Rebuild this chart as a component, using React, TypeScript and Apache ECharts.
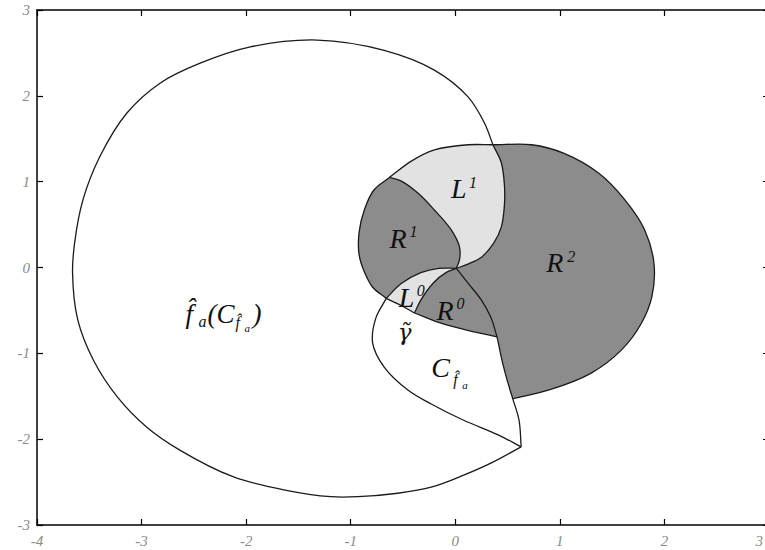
import React, { useEffect, useRef } from "react";
import * as echarts from "echarts";

type Pt = [number, number];

// ---- axis ticks ----
const xTicks = [-4, -3, -2, -1, 0, 1, 2, 3];
const yTicks = [-3, -2, -1, 0, 1, 2, 3];

// ---- boundary curves (data coordinates) ----
const outerArc: Pt[] = [
  [0.36, 1.43], [0.28, 1.68], [0.12, 1.99], [-0.2, 2.3], [-0.68, 2.53], [-1.32, 2.65],
  [-1.96, 2.57], [-2.44, 2.38], [-2.82, 2.15], [-3.14, 1.8], [-3.4, 1.29], [-3.56, 0.79],
  [-3.64, 0.29], [-3.66, -0.06], [-3.61, -0.61], [-3.46, -1.08], [-3.23, -1.51], [-2.95, -1.86],
  [-2.63, -2.13], [-2.12, -2.44], [-1.64, -2.59], [-1.19, -2.67], [-0.93, -2.67], [-0.55, -2.63],
  [-0.23, -2.56], [0.08, -2.42], [0.34, -2.28], [0.63, -2.09],
];
const cRightLow: Pt[] = [[0.63, -2.09], [0.61, -1.78], [0.55, -1.53]];
const cRightUp: Pt[] = [[0.55, -1.53], [0.5, -1.33], [0.45, -1.1], [0.4, -0.81]];
const r0Right: Pt[] = [[0.01, -0.01], [0.12, -0.18], [0.25, -0.38], [0.34, -0.58], [0.4, -0.81]];
const l1Right: Pt[] = [
  [0.36, 1.43], [0.44, 1.22], [0.47, 0.96], [0.47, 0.73], [0.44, 0.47], [0.37, 0.29],
  [0.25, 0.12], [0.12, 0.04], [0.01, -0.01],
];
const l1Top: Pt[] = [[-0.63, 1.05], [-0.42, 1.24], [-0.2, 1.37], [0.12, 1.43], [0.36, 1.43]];
const r2Arc: Pt[] = [
  [0.36, 1.43], [0.73, 1.43], [1.04, 1.33], [1.37, 1.1], [1.62, 0.79], [1.81, 0.44],
  [1.9, 0.05], [1.88, -0.34], [1.78, -0.65], [1.59, -0.96], [1.3, -1.23], [0.89, -1.43],
  [0.55, -1.53],
];
const divR1L1: Pt[] = [
  [-0.63, 1.05], [-0.52, 1.01], [-0.36, 0.87], [-0.2, 0.67], [-0.04, 0.44], [0.04, 0.24],
  [0.04, 0.09], [0.01, -0.01],
];
const r1Left: Pt[] = [
  [-0.63, 1.05], [-0.78, 0.9], [-0.87, 0.67], [-0.92, 0.41], [-0.92, 0.15], [-0.87, -0.05],
  [-0.79, -0.23], [-0.66, -0.36],
];
const l0Top: Pt[] = [[-0.66, -0.36], [-0.52, -0.19], [-0.33, -0.06], [-0.16, -0.01], [0.01, -0.01]];
const divL0R0: Pt[] = [[0.01, -0.01], [-0.09, -0.06], [-0.21, -0.18], [-0.33, -0.38], [-0.39, -0.53]];
const gammaA: Pt[] = [[-0.66, -0.36], [-0.49, -0.46], [-0.39, -0.53]];
const gammaB: Pt[] = [[-0.39, -0.53], [-0.16, -0.64], [0.08, -0.72], [0.4, -0.81]];
const cLeft: Pt[] = [
  [-0.66, -0.36], [-0.76, -0.59], [-0.79, -0.88], [-0.68, -1.16], [-0.45, -1.43],
  [-0.23, -1.59], [0.08, -1.78], [0.41, -1.95], [0.63, -2.09],
];

const curves: Record<string, Pt[]> = {
  outerArc, cRightLow, cRightUp, r0Right, l1Right, l1Top, r2Arc, divR1L1, r1Left,
  l0Top, divL0R0, gammaA, gammaB, cLeft,
};
const strokeCurves = Object.keys(curves);

// regions: sequences of curves [name, reversed]
const regionNames = ["R1", "L1", "R2", "L0", "R0"];
const regionParts: [string, boolean][][] = [
  [["divR1L1", false], ["l0Top", true], ["r1Left", true]],
  [["l1Top", false], ["l1Right", false], ["divR1L1", true]],
  [["r2Arc", false], ["cRightUp", false], ["r0Right", true], ["l1Right", true]],
  [["l0Top", false], ["divL0R0", false], ["gammaA", true]],
  [["r0Right", false], ["gammaB", true], ["divL0R0", true]],
];
const regionTone = ["dark", "light", "dark", "light", "dark"];

// label anchors (data coords, baseline-left of main glyph)
const labelAnchors: Pt[] = [
  [-0.04, 0.81], // L1
  [-0.63, 0.23], // R1
  [0.87, -0.05], // R2
  [-0.54, -0.46], // L0
  [-0.18, -0.61], // R0
  [-0.55, -0.84], // gamma
  [-0.23, -1.28], // C_fa
  [-2.58, -0.65], // fa(C_fa)
];

type Piece = { t: string; dx: number; dy: number; s: number; font?: string };
const labelPieces: Piece[][] = [
  [{ t: "L", dx: 0, dy: 0, s: 28 }, { t: "1", dx: 18, dy: -10, s: 16 }],
  [{ t: "R", dx: 0, dy: 0, s: 28 }, { t: "1", dx: 20, dy: -11, s: 16 }],
  [{ t: "R", dx: 0, dy: 0, s: 28 }, { t: "2", dx: 21, dy: -10, s: 16 }],
  [{ t: "L", dx: 0, dy: 0, s: 28 }, { t: "0", dx: 18, dy: -11, s: 16 }],
  [{ t: "R", dx: 0, dy: 0, s: 28 }, { t: "0", dx: 20, dy: -11, s: 16 }],
  [{ t: "\u03B3\u0303", dx: 0, dy: 0, s: 23, font: '"DejaVu Serif", serif' }],
  [
    { t: "C", dx: 0, dy: 0, s: 28 },
    { t: "f\u0302", dx: 22, dy: 8, s: 16 },
    { t: "a", dx: 31, dy: 11, s: 11 },
  ],
  [
    { t: "f\u0302", dx: 0, dy: 0, s: 27 },
    { t: "a", dx: 13, dy: 4, s: 16 },
    { t: "(C", dx: 22, dy: 0, s: 27 },
    { t: "f\u0302", dx: 50, dy: 5, s: 16 },
    { t: "a", dx: 59, dy: 8, s: 11 },
    { t: ")", dx: 67, dy: 0, s: 27 },
  ],
];

const DARK = "#8c8c8c";
const LIGHT = "#e2e2e2";
const INK = "#1a1a1a";
const SERIF = '"Liberation Serif", "DejaVu Serif", serif';

// centripetal Catmull-Rom -> cubic Bezier segments (rendering only)
function segs(p: number[][]): string {
  const n = p.length;
  const get = (i: number): number[] => {
    if (i < 0) return [2 * p[0][0] - p[1][0], 2 * p[0][1] - p[1][1]];
    if (i >= n) return [2 * p[n - 1][0] - p[n - 2][0], 2 * p[n - 1][1] - p[n - 2][1]];
    return p[i];
  };
  const dist = (a: number[], b: number[]) => Math.max(1e-6, Math.hypot(a[0] - b[0], a[1] - b[1]));
  let s = "";
  for (let i = 0; i < n - 1; i++) {
    const p0 = get(i - 1), p1 = get(i), p2 = get(i + 1), p3 = get(i + 2);
    const d1 = dist(p0, p1), d2 = dist(p1, p2), d3 = dist(p2, p3);
    const d1a = Math.sqrt(d1), d2a = Math.sqrt(d2), d3a = Math.sqrt(d3);
    const b1: number[] = [0, 0];
    const b2: number[] = [0, 0];
    for (let k = 0; k < 2; k++) {
      b1[k] = (d1 * p2[k] - d2 * p0[k] + (2 * d1 + 3 * d1a * d2a + d2) * p1[k]) / (3 * d1a * (d1a + d2a));
      b2[k] = (d3 * p1[k] - d2 * p3[k] + (2 * d3 + 3 * d3a * d2a + d2) * p2[k]) / (3 * d3a * (d3a + d2a));
    }
    s += `C${b1[0].toFixed(2)},${b1[1].toFixed(2)} ${b2[0].toFixed(2)},${b2[1].toFixed(2)} ${p2[0].toFixed(2)},${p2[1].toFixed(2)}`;
  }
  return s;
}

export default function App() {
  const ref = useRef<HTMLDivElement>(null);
  useEffect(() => {
    if (!ref.current) return;
    const chart = echarts.init(ref.current, undefined, { renderer: "svg" });
    const labelFont = {
      fontFamily: SERIF,
      fontStyle: "italic" as const,
      fontSize: 15,
      color: "#8a8a8a",
    };
    const xMax = xTicks[xTicks.length - 1];
    const axisLine = { show: true, onZero: false, lineStyle: { color: "#000", width: 1.5 } };
    const axisTick = { show: true, inside: true, length: 6, lineStyle: { color: "#000", width: 1.2 } };
    const xBase = { type: "value" as const, min: xTicks[0], max: xMax, interval: 1, splitLine: { show: false }, axisLine, axisTick };
    const yBase = { type: "value" as const, min: yTicks[0], max: yTicks[yTicks.length - 1], interval: 1, splitLine: { show: false }, axisLine, axisTick };

    chart.setOption({
      animation: false,
      backgroundColor: "#fff",
      grid: { left: 37, top: 10, right: -4, bottom: 25, containLabel: false, outerBoundsMode: "none" },
      xAxis: [
        {
          ...xBase,
          position: "bottom",
          axisLabel: {
            ...labelFont,
            margin: 8,
            alignMaxLabel: "right",
            formatter: (v: number) => (v === xMax ? `{e|${v}}` : `${v}`),
            rich: { e: { ...labelFont, padding: [0, 6, 0, 0] } },
          },
        },
        { ...xBase, position: "top", axisLabel: { show: false } },
      ],
      yAxis: [
        { ...yBase, position: "left", axisLabel: { ...labelFont, margin: 7 } },
        { ...yBase, position: "right", axisLabel: { show: false } },
      ],
      series: [
        {
          type: "custom",
          name: "regions",
          silent: true,
          data: regionNames.map(() => [0, 0]),
          renderItem: (params: any, api: any) => {
            const parts = regionParts[params.dataIndex];
            let d = "";
            parts.forEach(([name, rev], k) => {
              let pts = curves[name].map((p) => api.coord(p));
              if (rev) pts = pts.slice().reverse();
              if (k === 0) d += `M${pts[0][0].toFixed(2)},${pts[0][1].toFixed(2)}`;
              d += segs(pts);
            });
            d += "Z";
            return {
              type: "path",
              shape: { pathData: d },
              style: { fill: regionTone[params.dataIndex] === "dark" ? DARK : LIGHT, stroke: "none" },
            };
          },
        },
        {
          type: "custom",
          name: "curves",
          silent: true,
          data: strokeCurves.map(() => [0, 0]),
          renderItem: (params: any, api: any) => {
            const pts = curves[strokeCurves[params.dataIndex]].map((p) => api.coord(p));
            const d = `M${pts[0][0].toFixed(2)},${pts[0][1].toFixed(2)}` + segs(pts);
            return {
              type: "path",
              shape: { pathData: d },
              style: { fill: "none", stroke: INK, lineWidth: 1.3 },
            };
          },
        },
        {
          type: "custom",
          name: "labels",
          silent: true,
          data: labelAnchors.map((p) => [p[0], p[1]]),
          renderItem: (params: any, api: any) => {
            const a = labelAnchors[params.dataIndex];
            const c = api.coord(a);
            return {
              type: "group",
              x: c[0],
              y: c[1],
              children: labelPieces[params.dataIndex].map((pc) => ({
                type: "text",
                x: pc.dx,
                y: pc.dy - 0.34 * pc.s,
                style: {
                  text: pc.t,
                  font: `italic ${pc.s}px ${pc.font || SERIF}`,
                  fill: "#111",
                  align: "left",
                  verticalAlign: "middle",
                },
              })),
            };
          },
        },
      ],
    });
    return () => chart.dispose();
  }, []);
  return (
    <div
      ref={ref}
      style={{ position: "absolute", left: 0, top: 0, width: 765, height: 550, background: "#fff" }}
    />
  );
}
